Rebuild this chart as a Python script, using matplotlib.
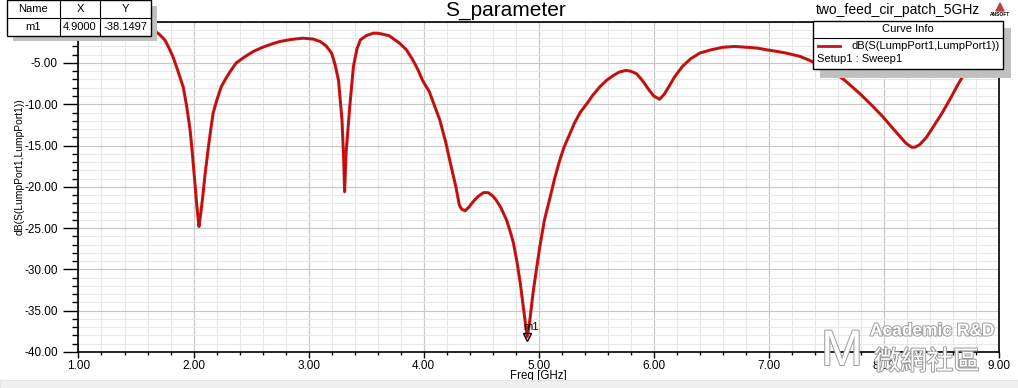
import matplotlib
matplotlib.use('Agg')
import matplotlib.pyplot as plt
from matplotlib.patches import Rectangle, Polygon
import matplotlib.patheffects as pe

plt.rcParams['font.family'] = ['Liberation Sans', 'DejaVu Sans']

# Du lieu doc tu hinh
freq = [1.00, 1.20, 1.40, 1.55, 1.60, 1.65, 1.70, 1.75, 1.78, 1.82, 1.86, 1.91,
        1.94, 1.97, 1.99, 2.01, 2.03, 2.047, 2.06, 2.08, 2.10, 2.13, 2.15, 2.17,
        2.20, 2.24, 2.28, 2.32, 2.37, 2.44, 2.52, 2.60, 2.68, 2.75, 2.85, 2.95,
        3.04, 3.10, 3.15, 3.20, 3.23, 3.26, 3.29, 3.305, 3.313, 3.325, 3.36, 3.39,
        3.42, 3.45, 3.50, 3.56, 3.60, 3.64, 3.70, 3.79, 3.85, 3.90, 3.95, 3.99,
        4.05, 4.14, 4.19, 4.24, 4.28, 4.31, 4.33, 4.36, 4.39, 4.43, 4.47, 4.52,
        4.56, 4.60, 4.63, 4.67, 4.72, 4.75, 4.78, 4.81, 4.84, 4.87, 4.90, 4.92,
        4.95, 4.98, 5.01, 5.05, 5.10, 5.14, 5.18, 5.22, 5.27, 5.31, 5.36, 5.42,
        5.47, 5.53, 5.59, 5.65, 5.70, 5.76, 5.80, 5.85, 5.90, 5.96, 6.00, 6.05,
        6.09, 6.13, 6.18, 6.25, 6.32, 6.40, 6.50, 6.60, 6.70, 6.81, 6.90, 6.98,
        7.07, 7.15, 7.27, 7.34, 7.42, 7.53, 7.66, 7.79, 7.90, 7.99, 8.07, 8.14,
        8.19, 8.24, 8.27, 8.31, 8.37, 8.43, 8.50, 8.57, 8.64, 8.72, 8.78, 8.85,
        8.92, 9.00]
s11 = [-0.05, -0.1, -0.25, -0.5, -0.7, -1.0, -1.5, -2.2, -3.0, -4.2, -5.8, -7.9,
       -10.2, -13.1, -16.0, -19.2, -22.5, -24.8, -23.5, -21.2, -18.5, -15.1, -13.0, -11.1,
       -9.6, -7.9, -6.9, -6.0, -5.0, -4.3, -3.6, -3.1, -2.7, -2.4, -2.15, -2.0,
       -2.1, -2.4, -2.9, -3.8, -5.2, -7.1, -11.9, -16.7, -20.6, -16.0, -9.9, -5.4,
       -3.3, -2.2, -1.7, -1.4, -1.4, -1.5, -1.7, -2.6, -3.4, -4.5, -5.8, -7.1,
       -8.5, -11.9, -14.5, -17.6, -20.0, -22.2, -22.7, -22.9, -22.5, -21.8, -21.2, -20.7,
       -20.7, -21.1, -21.6, -22.5, -24.0, -25.3, -26.8, -29.0, -31.7, -35.0, -38.15, -36.5,
       -32.9, -30.0, -27.2, -24.0, -21.2, -18.9, -16.9, -15.2, -13.6, -12.3, -11.0, -9.9,
       -8.9, -7.9, -7.1, -6.5, -6.1, -5.9, -6.0, -6.3, -7.1, -8.3, -9.0, -9.4,
       -8.8, -7.9, -6.7, -5.4, -4.5, -3.8, -3.4, -3.1, -3.0, -3.1, -3.2, -3.4,
       -3.6, -3.8, -4.2, -4.6, -5.1, -5.8, -7.1, -8.7, -10.2, -11.5, -12.8, -13.9,
       -14.7, -15.2, -15.2, -14.9, -14.0, -12.7, -11.2, -9.5, -7.7, -5.8, -5.3, -4.8,
       -4.3, -3.9]

marker_name = 'm1'
marker_x = 4.9000
marker_y = -38.1497

x_ticks = [1, 2, 3, 4, 5, 6, 7, 8, 9]
y_ticks = [-40, -35, -30, -25, -20, -15, -10, -5, 0]

fig = plt.figure(figsize=(10.18, 3.88), dpi=100)
fig.patch.set_facecolor('white')
# dai xam o day hinh
fig.add_artist(Rectangle((0, 0), 1, 0.02, transform=fig.transFigure,
                         facecolor='#f0f0f0', edgecolor='#e4e4e4', lw=0.8))

ax = fig.add_axes([0.0771, 0.0928, 0.9042, 0.8513])
ax.plot(freq, s11, color='#e01010', lw=2.2, zorder=3, solid_joinstyle='round')
ax.plot(freq, s11, color='#a01818', lw=0.9, zorder=4, solid_joinstyle='round')

# marker m1
ax.plot([marker_x], [marker_y], marker='v', ms=6, mfc='none', mec='black', mew=1, zorder=5)
ax.text(marker_x + 0.03, marker_y + 0.6, marker_name, fontsize=8, ha='center', va='bottom', zorder=5)

ax.set_xlim(1, 9)
ax.set_ylim(-40, 0)
ax.set_xticks(x_ticks)
ax.set_xticklabels(['%.2f' % v for v in x_ticks])
ax.set_yticks(y_ticks)
ax.set_yticklabels(['%.2f' % v for v in y_ticks[:-1]] + [''])
ax.set_xticks([1 + 0.2 * i for i in range(41)], minor=True)
ax.set_yticks(list(range(-40, 1)), minor=True)
ax.grid(which='minor', color='#e8e8e8', lw=0.8)
ax.grid(which='major', color='#c8c8c8', lw=0.9)
ax.set_axisbelow(True)
ax.tick_params(which='major', axis='y', length=11, width=1, labelsize=8.5, pad=4)
ax.tick_params(which='minor', axis='y', length=4.5, width=1)
ax.tick_params(which='major', axis='x', length=4, width=1, labelsize=8.5, pad=1.5)
ax.tick_params(which='minor', axis='x', length=2.5, width=1)
for s in ax.spines.values():
    s.set_color('black')
    s.set_linewidth(1.2)

ax.set_xlabel('Freq [GHz]', fontsize=8.3, labelpad=-1)
ax.set_ylabel('dB(S(LumpPort1,LumpPort1))', fontsize=7.4)
ax.yaxis.set_label_coords(-0.059, 0.56)

# lop phu theo toa do pixel
ov = fig.add_axes([0, 0, 1, 1], zorder=10)
ov.set_xlim(0, 1018)
ov.set_ylim(388, 0)
ov.axis('off')

ov.text(505, 10, 'S_parameter', fontsize=15, ha='center', va='center')
ov.text(898, 10, 'two_feed_cir_patch_5GHz', fontsize=10, ha='center', va='center')
ov.add_patch(Polygon([[996, 11], [1004, 11], [1000, 3]], closed=True, facecolor='#c04040', edgecolor='#c04040'))
ov.text(1000, 15, 'ANSOFT', fontsize=3.5, ha='center', va='center', weight='bold')

# bang marker
ov.add_patch(Rectangle((13, 6), 144, 35, facecolor='#c0c0c0', edgecolor='none'))
ov.add_patch(Rectangle((7, 0), 144, 36, facecolor='white', edgecolor='black', lw=1))
ov.plot([7, 151], [18, 18], color='black', lw=0.8)
ov.plot([60, 60], [0, 36], color='black', lw=0.8)
ov.plot([100, 100], [0, 36], color='black', lw=0.8)
ov.text(33, 9, 'Name', fontsize=8, ha='center', va='center')
ov.text(80, 9, 'X', fontsize=8, ha='center', va='center')
ov.text(125, 9, 'Y', fontsize=8, ha='center', va='center')
ov.text(33, 27, marker_name, fontsize=8, ha='center', va='center')
ov.text(80, 27, '%.4f' % marker_x, fontsize=8, ha='center', va='center')
ov.text(125, 27, '%.4f' % marker_y, fontsize=8, ha='center', va='center')

# hop Curve Info
ov.add_patch(Rectangle((820, 28), 191, 50, facecolor='#c0c0c0', edgecolor='none'))
ov.add_patch(Rectangle((813, 21), 190, 48, facecolor='white', edgecolor='black', lw=1))
ov.plot([813, 1003], [38, 38], color='black', lw=0.8)
ov.text(908, 29.5, 'Curve Info', fontsize=8, ha='center', va='center')
ov.plot([818, 840], [46, 46], color='#c8101a', lw=2)
ov.text(1000, 46, 'dB(S(LumpPort1,LumpPort1))', fontsize=8, ha='right', va='center')
ov.text(817, 59, 'Setup1 : Sweep1', fontsize=8, ha='left', va='center')

# watermark
halo = [pe.withStroke(linewidth=1.5, foreground='#a0a0a0')]
ov.text(870, 331, 'Academic R&D', fontsize=12.5, color='white', weight='bold',
        ha='left', va='center', path_effects=halo)
ov.text(874, 362, '微網社區', fontsize=19, color='white', ha='left', va='center',
        family=['Noto Sans CJK TC', 'DejaVu Sans'], path_effects=halo)
ov.text(842, 352, 'M', fontsize=36, color='white', ha='center', va='center',
        path_effects=halo)

fig.savefig('out.png', dpi=100)
